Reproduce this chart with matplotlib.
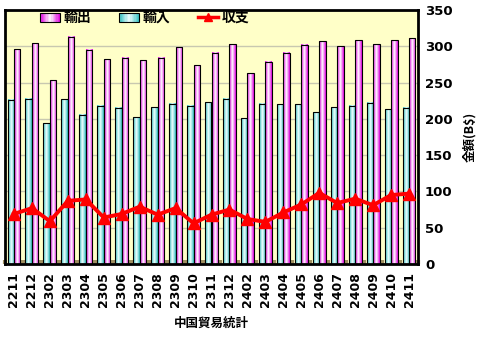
import matplotlib
matplotlib.use("Agg")
import matplotlib.pyplot as plt
import numpy as np
from matplotlib.colors import LinearSegmentedColormap
from matplotlib.patches import Rectangle
from matplotlib.lines import Line2D
from matplotlib.legend_handler import HandlerBase

plt.rcParams['font.family'] = ['Noto Sans CJK JP', 'DejaVu Sans']

# 月 (YYMM)
months = ['2211', '2212', '2302', '2303', '2304', '2305', '2306', '2307',
          '2308', '2309', '2310', '2311', '2312', '2402', '2403', '2404',
          '2405', '2406', '2407', '2408', '2409', '2410', '2411']
# 輸出・輸入・収支 (B$)
exports = [296, 304, 253, 313, 295, 282, 284, 281, 284, 299, 274, 291,
           303, 263, 279, 291, 302, 307, 300, 308, 303, 308, 311]
imports = [226, 228, 194, 227, 206, 218, 215, 202, 216, 221, 218, 223,
           228, 201, 221, 220, 220, 209, 216, 218, 222, 213, 215]
balance = [69, 77, 59, 87, 89, 64, 69, 79, 68, 77, 56, 68,
           75, 62, 58, 71, 82, 98, 84, 90, 81, 95, 97]

cm_exp = LinearSegmentedColormap.from_list('exp', ['#E000E0', '#FFFFFF', '#E000E0'])
cm_imp = LinearSegmentedColormap.from_list('imp', ['#30C0C0', '#F0FFFF', '#30C0C0'])


class GradientBox(HandlerBase):
    """legend handle: box filled with a horizontal gradient"""
    def __init__(self, cmap, n=16):
        super().__init__()
        self.cmap = cmap
        self.n = n

    def create_artists(self, legend, orig, xd, yd, width, height, fontsize, trans):
        arts = []
        sw = width / self.n
        for i in range(self.n):
            c = self.cmap((i + 0.5) / self.n)
            arts.append(Rectangle((-xd + i * sw, -yd), sw, height,
                                  facecolor=c, edgecolor='none', transform=trans))
        arts.append(Rectangle((-xd, -yd), width, height, facecolor='none',
                              edgecolor='black', lw=0.8, transform=trans))
        return arts


fig = plt.figure(figsize=(4.8, 3.45), dpi=100)
ax = fig.add_axes([5/480, 1 - 264/345, 413/480, 254/345])
ax.set_facecolor('#FFFFC8')

x = np.arange(len(months))
w = 0.36
grad = np.linspace(0, 1, 64).reshape(1, -1)

b_imp = ax.bar(x - w/2, imports, w, facecolor='none', edgecolor='black', lw=0.8, zorder=3)
b_exp = ax.bar(x + w/2, exports, w, facecolor='none', edgecolor='black', lw=0.8, zorder=3)
for bars, cm in ((b_imp, cm_imp), (b_exp, cm_exp)):
    for r in bars:
        ax.imshow(grad, cmap=cm, aspect='auto', zorder=2,
                  extent=(r.get_x(), r.get_x() + r.get_width(), 0, r.get_height()))

ax.plot(x, balance, color='red', lw=2.8, marker='^', ms=8, zorder=4)

ax.set_xlim(-0.5, len(months) - 0.5)
ax.set_ylim(0, 350)
ax.set_yticks(range(0, 351, 50))
ax.yaxis.grid(True, color='#C8C8B0', lw=1)
ax.set_axisbelow(True)
ax.yaxis.tick_right()
ax.yaxis.set_label_position('right')
ax.tick_params(axis='y', length=0, labelsize=9.5, pad=5)
for t in ax.get_yticklabels():
    t.set_fontweight('bold')
    t.set_family('DejaVu Sans')

ax.set_xticks(x)
ax.set_xticklabels(months, rotation=90, fontsize=9, fontweight='bold', family='DejaVu Sans')
ax.tick_params(axis='x', length=0, pad=6)
ax.set_xticks(np.arange(-0.5, len(months)), minor=True)
ax.tick_params(axis='x', which='minor', direction='in', length=3, width=3, color='#A09060')

ax.set_ylabel('金額(B$)', fontsize=9, fontweight='bold', rotation=90)
ax.yaxis.set_label_coords(1.109, 0.5)
ax.set_xlabel('中国貿易統計', fontsize=9, fontweight='bold', labelpad=7)

for s in ax.spines.values():
    s.set_linewidth(2)

h_exp = Rectangle((0, 0), 1, 1)
h_imp = Rectangle((0, 0), 1, 1)
h_bal = Line2D([], [], color='red', lw=2.5, marker='^', ms=6)
ax.legend([h_exp, h_imp, h_bal], ['輸出', '輸入', '収支'], ncol=3,
          loc='center left', bbox_to_anchor=(40/480, 1 - 18/345),
          bbox_transform=fig.transFigure, frameon=False,
          prop={'weight': 'bold', 'size': 10}, columnspacing=2.0,
          handlelength=1.45, handleheight=0.6, handletextpad=0.25,
          borderpad=0, borderaxespad=0,
          handler_map={h_exp: GradientBox(cm_exp), h_imp: GradientBox(cm_imp)})

fig.savefig('out.png', dpi=100)
